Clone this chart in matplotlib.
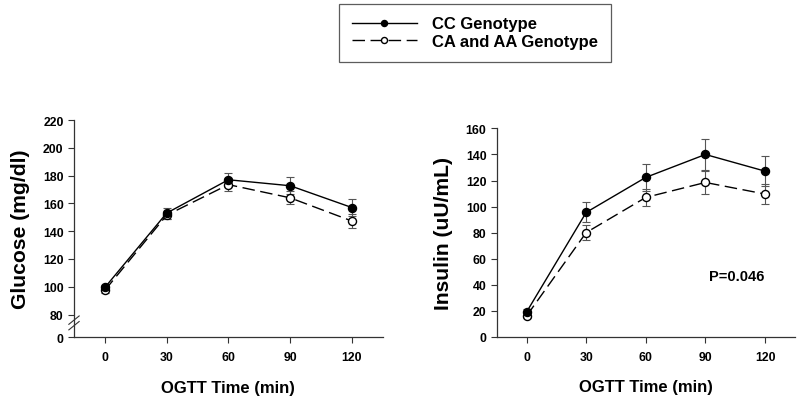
import matplotlib
matplotlib.use("Agg")
import matplotlib.pyplot as plt
from matplotlib.lines import Line2D
import numpy as np

plt.rcParams['font.family'] = ['Liberation Sans', 'DejaVu Sans']
plt.rcParams['font.weight'] = 'bold'

times = [0, 30, 60, 90, 120]

glucose_cc = [99.5, 153, 177, 172.7, 157]
glucose_cc_err = [2, 4, 5, 6, 6]
glucose_ca = [97.5, 151.5, 173.5, 164, 147.3]
glucose_ca_err = [2, 3, 4.6, 4.6, 4.8]

insulin_cc = [19, 95.5, 122.4, 140, 127.2]
insulin_cc_err = [2, 7.7, 10.5, 11.6, 11.3]
insulin_ca = [16, 80, 107, 118.5, 109.6]
insulin_ca_err = [2, 5.6, 6.4, 8.5, 8]

glucose_ticks = [0, 80, 100, 120, 140, 160, 180, 200, 220]
insulin_ticks = [0, 20, 40, 60, 80, 100, 120, 140, 160]
p_text = "P=0.046"

# glucose axis is broken between 0 and 80
g_zero = 63.8

def gmap(v):
    return [g_zero if x == 0 else x for x in v]

fig = plt.figure(figsize=(8, 4.02), dpi=100)
ax1 = fig.add_axes([0.0925, 0.159, 0.386, 0.540])
ax2 = fig.add_axes([0.621, 0.160, 0.3725, 0.518])

err_kw = dict(ecolor='#555555', elinewidth=0.8, capsize=3, capthick=0.8)
cc_kw = dict(color='black', lw=1.0, marker='o', ms=5.8, mfc='black', mec='black')
ca_kw = dict(color='black', lw=1.0, marker='o', ms=5.8, mfc='white', mec='black',
             dashes=(9, 4))

def draw(ax, y1, e1, y2, e2):
    ax.errorbar(times, y2, yerr=e2, fmt='none', zorder=2, **err_kw)
    ax.errorbar(times, y1, yerr=e1, fmt='none', zorder=2, **err_kw)
    ax.plot(times, y2, zorder=3, **ca_kw)
    ax.plot(times, y1, zorder=4, **cc_kw)
    ax.set_xlim(-15, 135)
    ax.set_xticks(times)
    for s in ['top', 'right']:
        ax.spines[s].set_visible(False)
    for s in ['left', 'bottom']:
        ax.spines[s].set_color('#333333')
        ax.spines[s].set_linewidth(0.9)
    ax.tick_params(direction='out', length=4, width=0.8, color='#333333',
                   labelsize=8.8)
    ax.tick_params(axis='x', pad=6)
    for lab in ax.get_xticklabels() + ax.get_yticklabels():
        lab.set_fontweight('bold')
    ax.set_xlabel("OGTT Time (min)", fontsize=12, fontweight='bold', labelpad=12)

draw(ax1, glucose_cc, glucose_cc_err, glucose_ca, glucose_ca_err)
ax1.set_ylim(g_zero, 220)
ax1.set_yticks(gmap(glucose_ticks))
ax1.set_yticklabels([str(t) for t in glucose_ticks], fontweight='bold')
ax1.set_ylabel("Glucose (mg/dl)", fontsize=15.2, fontweight='bold', labelpad=9)

# break marks on the glucose axis
for dy in [0.0, 4.0]:
    ax1.plot([-17.5, -12.5], [69 + dy, 75 + dy], color='#333333', lw=0.8,
             clip_on=False, zorder=5)

draw(ax2, insulin_cc, insulin_cc_err, insulin_ca, insulin_ca_err)
ax2.set_ylim(0, 160)
ax2.set_yticks(insulin_ticks)
ax2.set_yticklabels([str(t) for t in insulin_ticks], fontweight='bold')
ax2.set_ylabel("Insulin (uU/mL)", fontsize=15.2, fontweight='bold', labelpad=9)
ax2.text(106, 47, p_text, fontsize=10.5, fontweight='bold', ha='center', va='center')

handles = [Line2D([], [], **cc_kw), Line2D([], [], **ca_kw)]
leg = fig.legend(handles, ["CC Genotype", "CA and AA Genotype"],
                 loc='upper left', bbox_to_anchor=(339 / 800, 1 - 5 / 402),
                 frameon=True, fancybox=False, edgecolor='#333333',
                 prop={'weight': 'bold', 'size': 12}, handlelength=3.9,
                 handletextpad=0.95, borderpad=0.75, labelspacing=0.15,
                 markerscale=0.75, borderaxespad=0)
leg.get_frame().set_linewidth(0.9)

fig.savefig("out.png", dpi=100)
